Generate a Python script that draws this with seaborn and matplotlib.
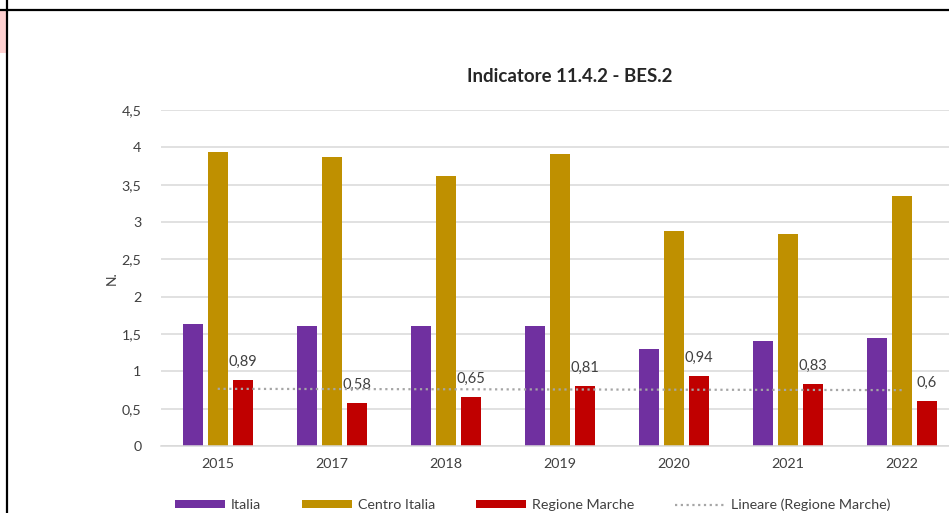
import matplotlib
matplotlib.use("Agg")
import matplotlib.pyplot as plt
from matplotlib.patches import Patch, Rectangle
from matplotlib.lines import Line2D
import numpy as np
import pandas as pd
import seaborn as sns

years = ["2015", "2017", "2018", "2019", "2020", "2021", "2022"]
italia = [1.64, 1.61, 1.61, 1.61, 1.30, 1.41, 1.45]
centro_italia = [3.94, 3.87, 3.62, 3.91, 2.88, 2.84, 3.35]
regione_marche = [0.89, 0.58, 0.65, 0.81, 0.94, 0.83, 0.60]
series_names = ["Italia", "Centro Italia", "Regione Marche"]
series_colors = ["#7030a0", "#bf9000", "#c00000"]
y_ticks = [0, 0.5, 1, 1.5, 2, 2.5, 3, 3.5, 4, 4.5]

df = pd.DataFrame({
    "Anno": years * 3,
    "Serie": [series_names[0]] * 7 + [series_names[1]] * 7 + [series_names[2]] * 7,
    "Valore": italia + centro_italia + regione_marche,
})

sns.set_theme(style="white")
plt.rcParams["font.family"] = ["Lato", "DejaVu Sans"]

W, H = 949, 513
fig = plt.figure(figsize=(W / 100, H / 100), dpi=100)
fig.patch.set_facecolor("white")

# plot area (extends slightly past the right edge of the figure)
left_px, bottom_px, top_px, width_px = 160.7, 446, 110, 798
ax = fig.add_axes([left_px / W, 1 - bottom_px / H, width_px / W, (bottom_px - top_px) / H])

sns.barplot(data=df, x="Anno", y="Valore", hue="Serie", hue_order=series_names,
            palette=series_colors, width=0.658, gap=0.2, dodge=True,
            saturation=1, legend=False, ax=ax, linewidth=0, errorbar=None)

ax.set_xlim(-0.5, len(years) - 0.5)
ax.set_ylim(0, 4.5)
ax.set_yticks(y_ticks)
ax.set_yticklabels([f"{t:g}".replace(".", ",") for t in y_ticks])
ax.yaxis.grid(True, color="#d9d9d9", linewidth=1.1)
ax.set_axisbelow(True)
for s in ["top", "right", "left"]:
    ax.spines[s].set_visible(False)
ax.spines["bottom"].set_color("#d9d9d9")
ax.spines["bottom"].set_linewidth(1.1)
ax.tick_params(axis="both", length=0, labelsize=10.3, labelcolor="#404040")
ax.tick_params(axis="x", pad=9)
ax.tick_params(axis="y", pad=14)
ax.set_xlabel("")
ax.set_ylabel("")

# value labels on the Regione Marche bars
reg_container = ax.containers[2]
ax.bar_label(reg_container, labels=[f"{v:g}".replace(".", ",") for v in regione_marche],
             padding=8, fontsize=10.5, color="#404040")

# linear trend of Regione Marche
xs = np.arange(len(years))
slope, intercept = np.polyfit(xs, regione_marche, 1)
ax.plot(xs, slope * xs + intercept, color="#a6a6a6", linewidth=1.6,
        linestyle=(0, (1, 1.6)), zorder=3)

# title and y label
fig.text(570 / W, 1 - 77 / H, "Indicatore 11.4.2 - BES.2", ha="center", va="center",
         fontsize=13.4, fontweight="bold", color="#262626")
fig.text(112 / W, 1 - 278 / H, "N.", rotation=90, ha="center", va="center",
         fontsize=10, color="#404040")

# legend
handles = [Patch(facecolor=c, edgecolor="none") for c in series_colors]
handles.append(Line2D([0], [0], color="#a6a6a6", linewidth=1.6, linestyle=(0, (1, 1.6))))
labels = series_names + ["Lineare (Regione Marche)"]
fig.legend(handles, labels, loc="center", bbox_to_anchor=(533 / W, 1 - 505 / H),
           ncol=4, frameon=False, fontsize=10.3, labelcolor="#404040",
           handlelength=3.5, handleheight=0.5, handletextpad=0.42, columnspacing=2.85,
           borderpad=0)

# frame lines and marker around the chart
fig.add_artist(Line2D([0, 1], [1 - 10 / H, 1 - 10 / H], color="black", linewidth=1.6,
                      transform=fig.transFigure))
fig.add_artist(Line2D([7 / W, 7 / W], [0, 1], color="black", linewidth=1.6,
                      transform=fig.transFigure))
fig.add_artist(Rectangle((0, 1 - 53 / H), 5.5 / W, 42 / H, facecolor="#ffd0d0",
                         edgecolor="none", transform=fig.transFigure))

fig.savefig("out.png", dpi=100, facecolor="white")
